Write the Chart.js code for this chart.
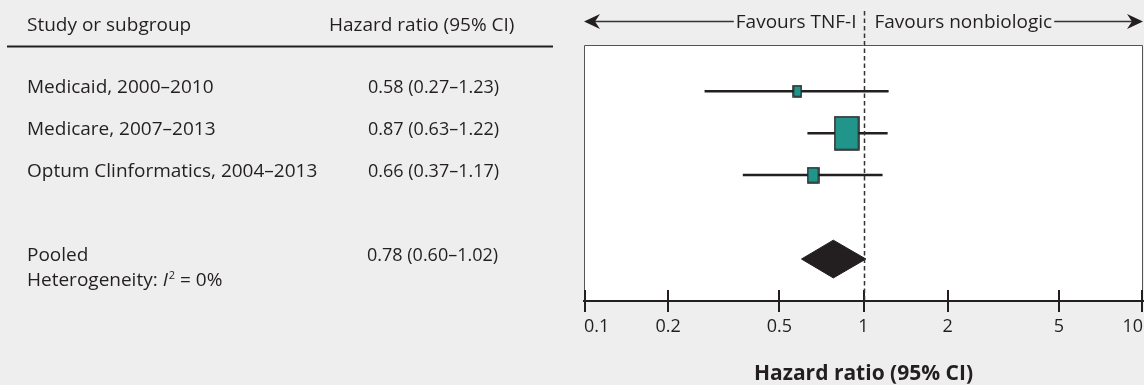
<!DOCTYPE html>
<html>
<head>
<meta charset="utf-8">
<script src="https://cdn.jsdelivr.net/npm/chart.js@4.4.1/dist/chart.umd.min.js"></script>
<style>
  html, body { margin: 0; padding: 0; background: #eeeeee; }
  #wrap { width: 1144px; height: 385px; }
</style>
</head>
<body>
<div id="wrap"><canvas id="c" width="1144" height="385"></canvas></div>
<script>
// ---------- data ----------
const studies = ['Medicaid, 2000–2010', 'Medicare, 2007–2013', 'Optum Clinformatics, 2004–2013'];
const hazardRatio = [0.58, 0.87, 0.66];
const ciLower = [0.27, 0.63, 0.37];
const ciUpper = [1.23, 1.22, 1.17];
const studyWeight = [8.5, 76.5, 15.0];      // percent weight (box area)
const studyRow = [0, 1, 2];
const pooledName = ['Pooled'];
const pooledRatio = [0.78];
const pooledLower = [0.60];
const pooledUpper = [1.02];
const pooledRow = [4];
const tickValues = [0.1, 0.2, 0.5, 1, 2, 5, 10];
const headerLabels = ['Study or subgroup', 'Hazard ratio (95% CI)'];
const favourLabels = ['Favours TNF-I', 'Favours nonbiologic'];
const axisTitle = 'Hazard ratio (95% CI)';

// ---------- style ----------
const FONT = '"Open Sans"';
const INK = '#231f20';
const TEAL = '#22958b';
const BG = '#eeeeee';
const DIAMOND_HALF = 0.45;   // in row units
const BOX_AREA_PER_PCT = 10.36;
const BOX_ASPECT = 0.727;

const fmt = (v) => v.toFixed(2);
const ciText = (e, l, u) => `${fmt(e)} (${fmt(l)}–${fmt(u)})`;

function makeBox(weight) {
  const area = weight * BOX_AREA_PER_PCT;
  const w = Math.round(Math.sqrt(area * BOX_ASPECT));
  const h = Math.round(Math.sqrt(area / BOX_ASPECT));
  const c = document.createElement('canvas');
  c.width = w + 2; c.height = h + 2;
  const g = c.getContext('2d');
  g.fillStyle = TEAL;
  g.fillRect(1, 1, w, h);
  g.strokeStyle = INK;
  g.lineWidth = 1.5;
  g.strokeRect(1, 1, w, h);
  return c;
}

const datasets = [];
studies.forEach((s, i) => {
  datasets.push({
    label: s + ' CI',
    data: [{x: ciLower[i], y: studyRow[i]}, {x: ciUpper[i], y: studyRow[i]}],
    showLine: true, borderColor: INK, borderWidth: 2.5, pointRadius: 0, order: 2
  });
});
datasets.push({
  label: 'Studies',
  data: hazardRatio.map((v, i) => ({x: v, y: studyRow[i]})),
  pointStyle: studyWeight.map(makeBox),
  pointRadius: 5, showLine: false, order: 0
});
pooledRatio.forEach((p, i) => {
  const r = pooledRow[i];
  datasets.push({
    label: pooledName[i],
    data: [
      {x: pooledLower[i], y: r},
      {x: p, y: r - DIAMOND_HALF},
      {x: pooledUpper[i], y: r},
      {x: p, y: r + DIAMOND_HALF},
      {x: pooledLower[i], y: r}
    ],
    showLine: true, fill: 'shape', backgroundColor: INK, borderColor: INK,
    borderWidth: 1, pointRadius: 0, tension: 0, order: 1
  });
});

const decorPlugin = {
  id: 'decor',
  beforeDraw(chart) {
    const {ctx, chartArea: a} = chart;
    ctx.save();
    ctx.fillStyle = BG;
    ctx.fillRect(0, 0, chart.width, chart.height);
    ctx.fillStyle = '#ffffff';
    ctx.fillRect(a.left, a.top, a.right - a.left, a.bottom - a.top);
    ctx.strokeStyle = '#555555';
    ctx.lineWidth = 1;
    ctx.beginPath();
    ctx.moveTo(a.left + 0.5, a.bottom);
    ctx.lineTo(a.left + 0.5, a.top + 0.5);
    ctx.lineTo(a.right - 0.5, a.top + 0.5);
    ctx.lineTo(a.right - 0.5, a.bottom);
    ctx.stroke();
    ctx.restore();
  },
  afterDraw(chart) {
    const {ctx, chartArea: a} = chart;
    const xs = chart.scales.x, ys = chart.scales.y;
    ctx.save();
    // tick marks crossing the axis
    ctx.strokeStyle = INK;
    ctx.lineWidth = 2;
    tickValues.forEach(v => {
      let px = Math.round(xs.getPixelForValue(v));
      if (px >= a.right) px = a.right - 1;
      if (px <= a.left) px = a.left + 1;
      ctx.beginPath();
      ctx.moveTo(px, a.bottom - 11);
      ctx.lineTo(px, a.bottom + 11);
      ctx.stroke();
    });
    // reference dashed line at 1
    const x1 = Math.round(xs.getPixelForValue(1)) + 0.5;
    ctx.strokeStyle = '#333333';
    ctx.lineWidth = 1.5;
    ctx.setLineDash([4.5, 3]);
    ctx.beginPath();
    ctx.moveTo(x1, 11);
    ctx.lineTo(x1, a.bottom);
    ctx.stroke();
    ctx.setLineDash([]);

    // favours header with arrows
    const ay = 21;
    ctx.font = `19px ${FONT}`;
    ctx.fillStyle = INK;
    ctx.textBaseline = 'alphabetic';
    const lw = ctx.measureText(favourLabels[0]).width;
    const rw = ctx.measureText(favourLabels[1]).width;
    const lRight = x1 - 8, rLeft = x1 + 10;
    ctx.textAlign = 'right';
    ctx.fillText(favourLabels[0], lRight, 28);
    ctx.textAlign = 'left';
    ctx.fillText(favourLabels[1], rLeft, 28);
    ctx.strokeStyle = '#333333';
    ctx.lineWidth = 1.4;
    ctx.beginPath();
    ctx.moveTo(a.left + 6, ay + 0.5);
    ctx.lineTo(lRight - lw - 2, ay + 0.5);
    ctx.moveTo(rLeft + rw + 2, ay + 0.5);
    ctx.lineTo(a.right - 6, ay + 0.5);
    ctx.stroke();
    ctx.fillStyle = INK;
    // left arrowhead
    ctx.beginPath();
    ctx.moveTo(a.left, ay + 0.5);
    ctx.lineTo(a.left + 16, ay - 7);
    ctx.lineTo(a.left + 11, ay + 0.5);
    ctx.lineTo(a.left + 16, ay + 8);
    ctx.closePath();
    ctx.fill();
    // right arrowhead
    ctx.beginPath();
    ctx.moveTo(a.right, ay + 0.5);
    ctx.lineTo(a.right - 16, ay - 7);
    ctx.lineTo(a.right - 11, ay + 0.5);
    ctx.lineTo(a.right - 16, ay + 8);
    ctx.closePath();
    ctx.fill();

    // left table
    const TXT = `19px ${FONT}`, NUM = `18px ${FONT}`;
    ctx.fillStyle = INK;
    ctx.textAlign = 'left';
    ctx.font = TXT;
    ctx.fillText(headerLabels[0], 27, 31);
    ctx.fillText(headerLabels[1], 329, 31);
    ctx.strokeStyle = INK;
    ctx.lineWidth = 2;
    ctx.beginPath();
    ctx.moveTo(7, 46.5);
    ctx.lineTo(553, 46.5);
    ctx.stroke();
    studies.forEach((s, i) => {
      const y = ys.getPixelForValue(studyRow[i]) + 2;
      ctx.font = TXT;
      ctx.fillText(s, 27, y);
      ctx.font = NUM;
      ctx.fillText(ciText(hazardRatio[i], ciLower[i], ciUpper[i]), 368, y);
    });
    pooledName.forEach((n, i) => {
      const y = ys.getPixelForValue(pooledRow[i]) + 2;
      ctx.font = TXT;
      ctx.fillText(n, 27, y);
      ctx.font = NUM;
      ctx.fillText(ciText(pooledRatio[i], pooledLower[i], pooledUpper[i]), 367, y);
      // heterogeneity line
      const hy = y + 25;
      let hx = 27;
      const part1 = 'Heterogeneity: ';
      ctx.font = TXT;
      ctx.fillText(part1, hx, hy); hx += ctx.measureText(part1).width;
      ctx.font = `italic 19px ${FONT}`;
      ctx.fillText('I', hx, hy); hx += ctx.measureText('I').width + 1;
      ctx.font = `11px ${FONT}`;
      ctx.fillText('2', hx, hy - 7); hx += ctx.measureText('2').width;
      ctx.font = TXT;
      ctx.fillText(' = 0%', hx, hy);
    });
    ctx.restore();
  }
};

const chart = new Chart(document.getElementById('c').getContext('2d'), {
  type: 'scatter',
  data: { datasets },
  options: {
    responsive: false,
    animation: false,
    events: [],
    layout: { autoPadding: false, padding: { left: 584, right: 1, top: 45, bottom: 0 } },
    plugins: { legend: { display: false }, tooltip: { enabled: false } },
    scales: {
      x: {
        type: 'logarithmic', min: 0.1, max: 10, position: 'bottom',
        afterBuildTicks: (s) => { s.ticks = tickValues.map(v => ({ value: v })); },
        afterFit: (s) => { s.height = 84; },
        ticks: {
          align: 'inner', autoSkip: false, maxRotation: 0, minRotation: 0,
          color: INK, padding: 0,
          font: { family: 'Open Sans', size: 18 },
          callback: (v) => String(v)
        },
        grid: { display: false, drawTicks: true, tickLength: 15 },
        border: { display: true, color: INK, width: 2 },
        title: {
          display: true, text: axisTitle, color: INK,
          font: { family: 'Open Sans', size: 21, weight: 'bold', lineHeight: 1 },
          padding: { top: 20, bottom: 0 }
        }
      },
      y: { type: 'linear', min: -1.1, max: 5, reverse: true, display: false }
    }
  },
  plugins: [decorPlugin]
});
</script>
</body>
</html>
